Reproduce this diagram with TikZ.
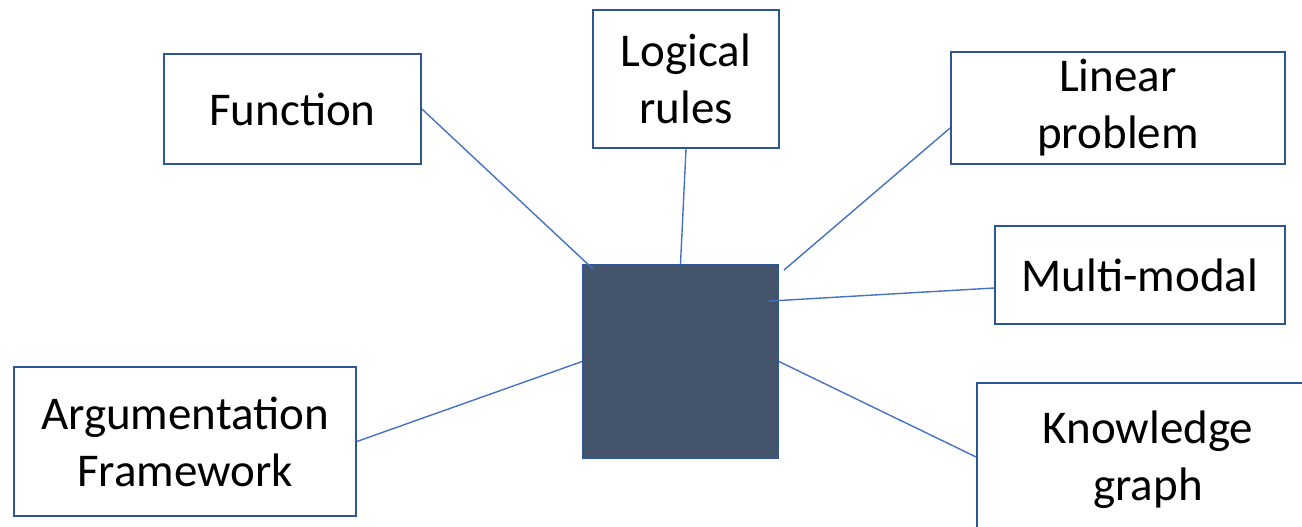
\documentclass[tikz,border=0pt]{standalone}
\usepackage{fontspec}
\setmainfont{Carlito}
\definecolor{boxline}{HTML}{2F5597}
\definecolor{conn}{HTML}{4472C4}
\definecolor{sq}{HTML}{44546A}
\begin{document}
\begin{tikzpicture}[x=1pt,y=-1pt,
  lbl/.style={draw=boxline,line width=1.8pt,fill=white,rectangle,inner sep=0pt,align=center,
    font=\fontsize{47}{57}\selectfont},
  link/.style={draw=conn,line width=1.4pt}]
\useasboundingbox (0,0) rectangle (1302,527);
\clip (0,0) rectangle (1302,527);
\node[lbl,minimum width=257pt,minimum height=110pt] (func) at (292.5,109) {Function};
\node[lbl,minimum width=186pt,minimum height=138pt] (logic) at (686,79) {Logical\\rules};
\node[lbl,minimum width=334pt,minimum height=112pt] (lin) at (1118,108) {Linear\\problem};
\node[lbl,minimum width=290pt,minimum height=98pt] (multi) at (1140,275) {Multi-modal};
\node[lbl,minimum width=342pt,minimum height=149pt] (arg) at (185,441.5) {Argumentation\\Framework};
\node[lbl,minimum width=342pt,minimum height=154pt] (kg) at (1148,460) {Knowledge\\graph};
\node[draw=boxline,line width=1.8pt,fill=sq,rectangle,inner sep=0pt,minimum width=195pt,minimum height=193pt] (c) at (680.5,361.5) {};
\draw[link] (func.east) -- ([shift={(11,5)}]c.north west);
\draw[link] (logic.south) -- (c.north);
\draw[link] ([shift={(0,20)}]lin.west) -- ([shift={(5,6)}]c.north east);
\draw[link] ([shift={(0,13)}]multi.west) -- ([shift={(-10,37)}]c.north east);
\draw[link] (arg.east) -- (c.west);
\draw[link] ([shift={(0,-3)}]kg.west) -- (c.east);
\end{tikzpicture}
\end{document}
